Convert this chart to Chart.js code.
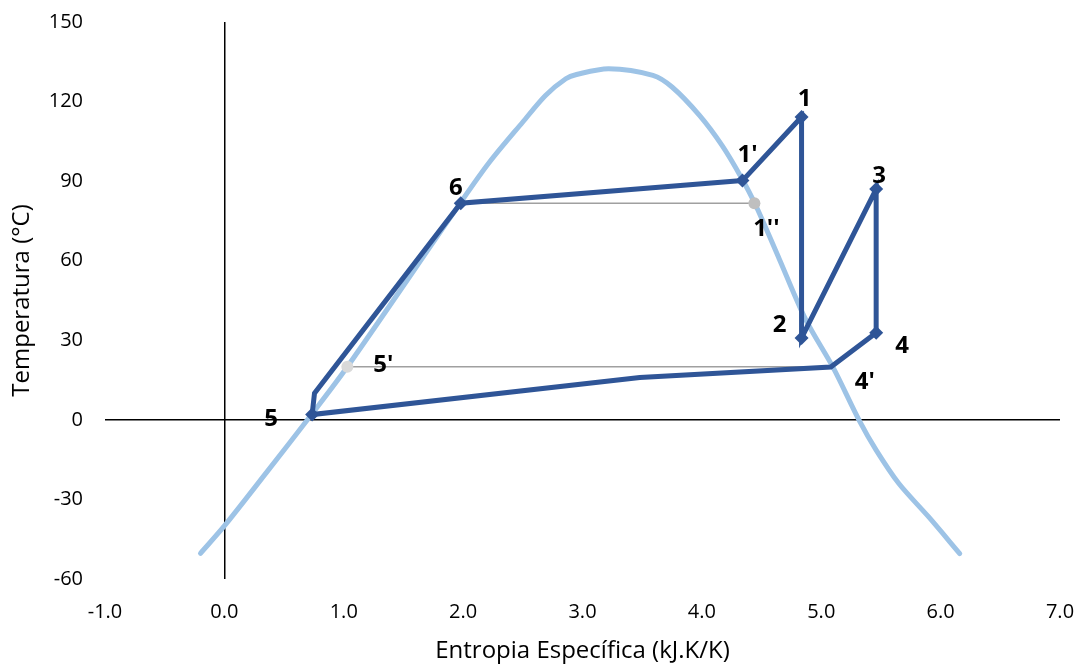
<!DOCTYPE html>
<html>
<head>
<meta charset="utf-8">
<script src="https://cdn.jsdelivr.net/npm/chart.js@4/dist/chart.umd.min.js"></script>
<style>
  html, body { margin: 0; padding: 0; background: #fff; }
  #wrap { width: 1080px; height: 666px; }
</style>
</head>
<body>
<div id="wrap"><canvas id="tsChart"></canvas></div>
<script>
// saturation dome (entropy, temperature)
const domeS = [-0.20, 0.00, 0.35, 0.73, 1.03, 1.98, 2.22, 2.50, 2.69, 2.86, 2.95, 3.22, 3.59, 3.75, 3.98, 4.17, 4.33, 4.45, 4.65, 4.87, 5.10, 5.32, 5.46, 5.65, 5.90, 6.16];
const domeT = [-50.3, -40, -20, 2, 20, 82, 97.1, 112.3, 122.3, 128.6, 130.2, 132.4, 129.9, 125.5, 114.8, 103.4, 91.4, 81, 60.5, 37.8, 19.7, -0.4, -11.4, -24, -36.6, -50.4];

// cycle path: 1' -> 1 -> 2 -> 3 -> 4 -> 4' -> ... -> 5 -> ... -> 6 -> 1'
const cycleS = [4.34, 4.835, 4.835, 5.46, 5.46, 5.08, 3.48, 0.735, 0.755, 1.98, 4.34];
const cycleT = [90.2, 114.2, 30.9, 87, 32.8, 19.9, 16, 2, 10, 81.7, 90.2];
const cycleMarker = [true, true, true, true, true, false, false, true, false, true, false];

// auxiliary isotherms
const iso1S = [1.98, 4.44];   // 6 -> 1''
const iso1T = [81.7, 81.7];
const iso2S = [1.03, 5.08];   // 5' -> 4'
const iso2T = [20, 20];

// point labels
const labelText = ["1", "1'", "1''", "2", "3", "4", "4'", "5", "5'", "6"];
const labelS = [4.835, 4.34, 4.44, 4.835, 5.46, 5.46, 5.08, 0.735, 1.03, 1.98];
const labelT = [114.2, 90.2, 81.7, 30.9, 87, 32.8, 19.9, 2, 20, 81.7];
const labelDx = [3, 5, 12, -22, 3, 26, 34, -41, 36, -5];
const labelDy = [-18, -25, 26, -13, -13, 13, 15, 5, -2, -15];

const xTicks = [-1, 0, 1, 2, 3, 4, 5, 6, 7];
const yTicks = [-60, -30, 0, 30, 60, 90, 120, 150];

const toXY = (xs, ys) => xs.map((x, i) => ({ x: x, y: ys[i] }));

const pointLabels = {
    id: 'pointLabels',
    afterDatasetsDraw(chart) {
        const ctx = chart.ctx;
        const xs = chart.scales.x, ys = chart.scales.y;
        ctx.save();
        ctx.font = 'bold 24px "Open Sans"';
        ctx.fillStyle = '#000';
        ctx.textAlign = 'center';
        ctx.textBaseline = 'middle';
        labelText.forEach((t, i) => {
            const px = xs.getPixelForValue(labelS[i]) + labelDx[i];
            const py = ys.getPixelForValue(labelT[i]) + labelDy[i];
            ctx.fillText(t, px, py);
        });
        ctx.restore();
    }
};

const zeroLine = (c) => c.tick && c.tick.value === 0 ? '#000' : 'rgba(0,0,0,0)';

new Chart(document.getElementById('tsChart').getContext('2d'), {
    type: 'scatter',
    data: {
        datasets: [
            {
                data: toXY(cycleS, cycleT),
                showLine: true,
                borderColor: '#2F5597',
                borderWidth: 5,
                backgroundColor: '#2F5597',
                pointStyle: 'rectRot',
                pointRadius: cycleMarker.map(m => m ? 7 : 0),
                pointBorderWidth: 0,
                order: 0
            },
            {
                data: toXY(iso1S, iso1T),
                showLine: true,
                borderColor: '#A0A0A0',
                borderWidth: 1.5,
                backgroundColor: '#BFBFBF',
                pointRadius: [0, 6],
                pointBorderWidth: 0,
                order: 1
            },
            {
                data: toXY(iso2S, iso2T),
                showLine: true,
                borderColor: '#A0A0A0',
                borderWidth: 1.5,
                backgroundColor: '#D9D9D9',
                pointRadius: [6, 0],
                pointBorderWidth: 0,
                order: 1
            },
            {
                data: toXY(domeS, domeT),
                showLine: true,
                borderColor: '#9DC3E6',
                borderWidth: 5,
                pointRadius: 0,
                tension: 0.3,
                borderCapStyle: 'round',
                borderJoinStyle: 'round',
                order: 2
            }
        ]
    },
    options: {
        responsive: true,
        maintainAspectRatio: false,
        animation: false,
        layout: { padding: { top: 22, right: 20, left: 0, bottom: 0 } },
        plugins: { legend: { display: false }, tooltip: { enabled: false } },
        scales: {
            x: {
                type: 'linear',
                min: -1, max: 7,
                afterBuildTicks: (s) => { s.ticks = xTicks.map(v => ({ value: v })); },
                afterFit: (s) => { s.height = 87; s.paddingLeft = 0; s.paddingRight = 0; },
                border: { display: false },
                grid: { color: zeroLine, lineWidth: 1.5, drawTicks: false },
                ticks: {
                    color: '#000',
                    font: { family: 'Open Sans', size: 20 },
                    padding: 21,
                    maxRotation: 0,
                    callback: (v) => v.toFixed(1)
                },
                title: {
                    display: true,
                    text: 'Entropia Específica (kJ.K/K)',
                    color: '#000',
                    font: { family: 'Open Sans', size: 24 },
                    padding: { top: 0, bottom: 0 }
                }
            },
            y: {
                type: 'linear',
                min: -60, max: 150,
                afterBuildTicks: (s) => { s.ticks = yTicks.map(v => ({ value: v })); },
                afterFit: (s) => { s.width = 105; s.paddingTop = 0; s.paddingBottom = 0; },
                border: { display: false },
                grid: { color: zeroLine, lineWidth: 1.5, drawTicks: false },
                ticks: {
                    color: '#000',
                    font: { family: 'Open Sans', size: 20 },
                    padding: 22
                },
                title: {
                    display: true,
                    text: 'Temperatura (°C)',
                    color: '#000',
                    font: { family: 'Open Sans', size: 24 },
                    padding: { top: 8, bottom: 6 }
                }
            }
        }
    },
    plugins: [pointLabels]
});
</script>
</body>
</html>
